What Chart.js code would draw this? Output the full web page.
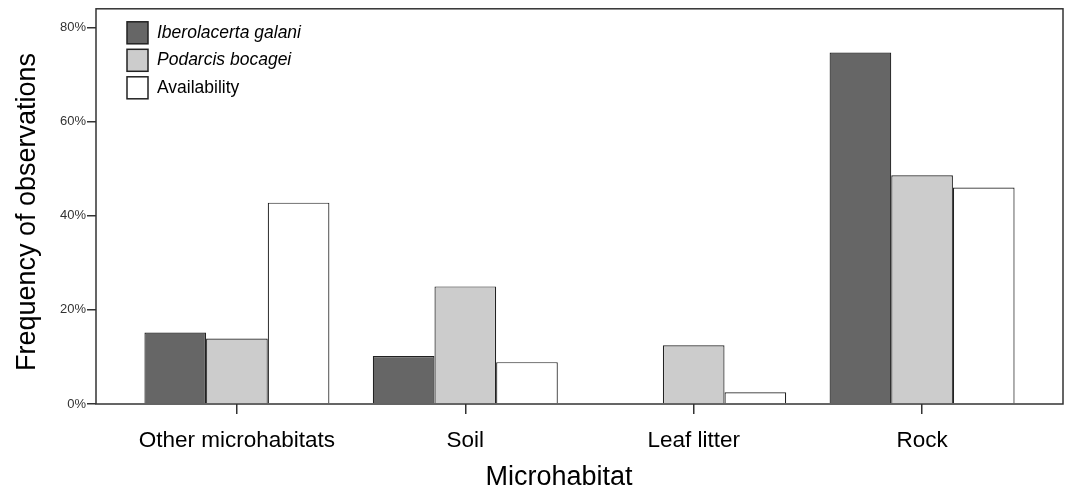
<!DOCTYPE html>
<html>
<head>
<meta charset="utf-8">
<script src="https://cdn.jsdelivr.net/npm/chart.js@4/dist/chart.umd.min.js"></script>
<style>
  html, body { margin: 0; padding: 0; background: #fff; }
  #wrap { width: 1072px; height: 493px; }
</style>
</head>
<body>
<div id="wrap"><canvas id="myChart"></canvas></div>
<script>
// values (percent of observations)
const categories = ["Other microhabitats", "Soil", "Leaf litter", "Rock"];
const iberolacerta = [15.2, 10.2, 0, 74.7];
const podarcis = [13.9, 25.0, 12.5, 48.6];
const availability = [42.8, 8.9, 2.5, 46.0];
const seriesNames = ["Iberolacerta galani", "Podarcis bocagei", "Availability"];
const seriesItalic = [true, true, false];
const yTicks = [0, 20, 40, 60, 80];
const xTitle = "Microhabitat";
const yTitle = "Frequency of observations";

const FONT = "'Liberation Sans', Arial, sans-serif";
const colors = ["#666666", "#cccccc", "#ffffff"];

function toPoints(values) {
  return values.map((v, i) => ({ x: i, y: v }));
}

// frame around the plot, axis titles and legend inside top-left
const framePlugin = {
  id: "frame",
  afterDraw(chart) {
    const { ctx, chartArea } = chart;
    ctx.save();
    ctx.strokeStyle = "#333";
    ctx.lineWidth = 1.5;
    ctx.strokeRect(chartArea.left, chartArea.top, chartArea.right - chartArea.left, chartArea.bottom - chartArea.top);

    // axis titles (sit a little off the plot centre, like the original)
    ctx.fillStyle = "#000";
    ctx.font = "27px " + FONT;
    ctx.textAlign = "center";
    ctx.textBaseline = "middle";
    ctx.fillText(xTitle, 559, 478);
    ctx.save();
    ctx.translate(28, 212);
    ctx.rotate(-Math.PI / 2);
    ctx.fillText(yTitle, 0, 0);
    ctx.restore();

    const x0 = chartArea.left + 31;
    let y0 = chartArea.top + 13;
    chart.data.datasets.forEach((ds, i) => {
      ctx.fillStyle = ds.backgroundColor;
      ctx.fillRect(x0, y0, 21, 22);
      ctx.strokeStyle = "#222";
      ctx.lineWidth = 1.5;
      ctx.strokeRect(x0, y0, 21, 22);
      ctx.fillStyle = "#000";
      ctx.font = (seriesItalic[i] ? "italic " : "") + "17.5px " + FONT;
      ctx.textBaseline = "middle";
      ctx.textAlign = "left";
      ctx.fillText(ds.label, x0 + 30, y0 + 11);
      y0 += 27.5;
    });
    ctx.restore();
  }
};

const datasets = [iberolacerta, podarcis, availability].map((vals, i) => ({
  label: seriesNames[i],
  data: toPoints(vals),
  backgroundColor: colors[i],
  borderColor: "#222",
  borderWidth: 1.2,
  categoryPercentage: 0.81,
  barPercentage: 1.0
}));

new Chart(document.getElementById("myChart"), {
  type: "bar",
  data: { datasets: datasets },
  options: {
    responsive: true,
    maintainAspectRatio: false,
    animation: false,
    layout: { padding: { top: 8, right: 9, left: 0, bottom: 0 } },
    plugins: { legend: { display: false }, tooltip: { enabled: false } },
    scales: {
      x: {
        type: "linear",
        offset: false,
        min: -0.617,
        max: 3.617,
        afterFit: (scale) => { scale.height = 89; },
        afterBuildTicks: (scale) => { scale.ticks = categories.map((c, i) => ({ value: i })); },
        ticks: {
          includeBounds: false,
          stepSize: 1,
          autoSkip: false,
          maxRotation: 0,
          padding: 13,
          color: "#000",
          font: { family: FONT, size: 22.5 },
          callback: (v) => categories[v]
        },
        grid: { offset: false, drawOnChartArea: false, drawTicks: true, tickLength: 10, color: "#333", lineWidth: 1.5 },
        border: { display: false },
        title: { display: false }
      },
      y: {
        min: 0,
        max: 84,
        afterFit: (scale) => { scale.width = 96; },
        afterBuildTicks: (scale) => { scale.ticks = yTicks.map((v) => ({ value: v })); },
        ticks: {
          includeBounds: false,
          stepSize: 20,
          padding: 1,
          color: "#333",
          font: { family: FONT, size: 13 },
          callback: (v) => v + "%"
        },
        grid: { drawOnChartArea: false, drawTicks: true, tickLength: 9, color: "#333", lineWidth: 1.5 },
        border: { display: false },
        title: { display: false }
      }
    }
  },
  plugins: [framePlugin]
});
</script>
</body>
</html>
